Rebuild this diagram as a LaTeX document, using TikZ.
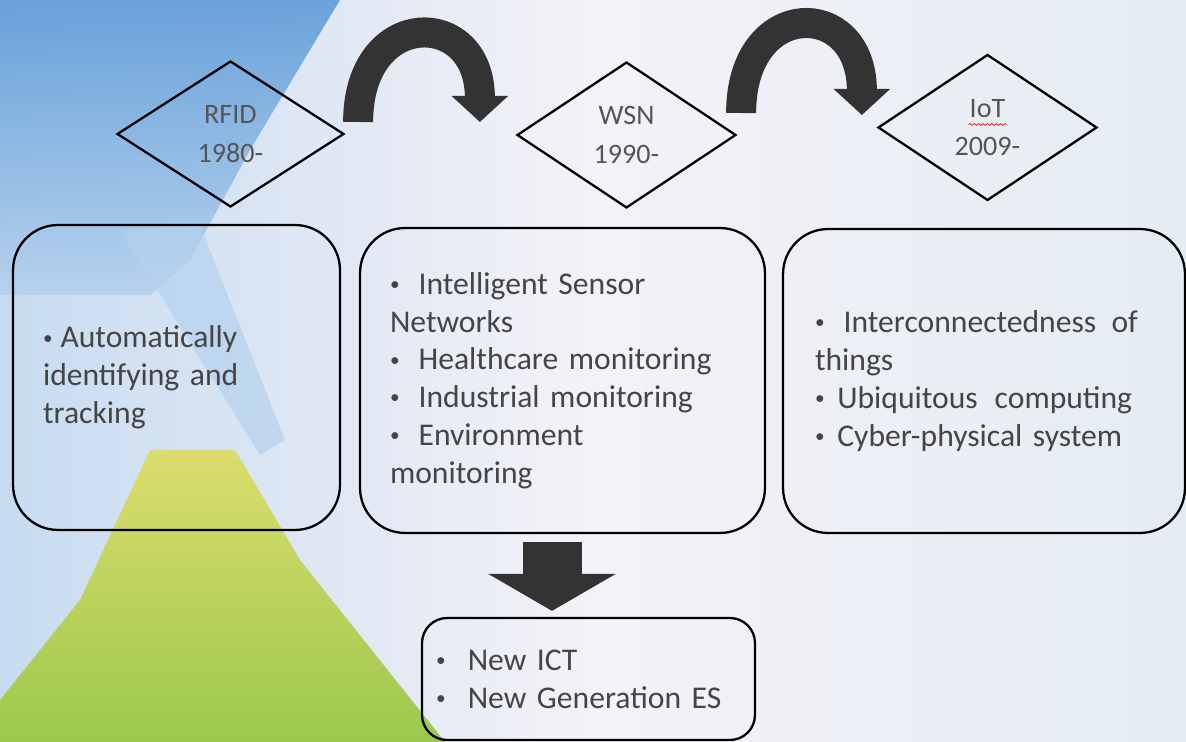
\documentclass[tikz,border=0pt]{standalone}
\usepackage{fontspec}
\setmainfont{Carlito}
\usepackage{xcolor}
\usetikzlibrary{positioning}
\usetikzlibrary{calc}
\usetikzlibrary{shapes.geometric}
\usetikzlibrary{arrows.meta}
\usetikzlibrary{decorations.pathmorphing}

\definecolor{arrowgray}{HTML}{333333}
\definecolor{diamondtext}{HTML}{555555}
\definecolor{boxtext}{HTML}{454545}
\definecolor{bgleft}{HTML}{C6DBF0}
\definecolor{bgmid}{HTML}{F4F2F8}
\definecolor{bgright}{HTML}{E4ECF3}
\definecolor{bluedark}{HTML}{5E9BD8}
\definecolor{bluelight}{HTML}{B5D1EE}
\definecolor{leafyellow}{HTML}{DCDD6C}
\definecolor{leafgreen}{HTML}{9CC84E}

\newcommand{\dotmark}{\raisebox{2.2pt}{\fontsize{11}{11}\selectfont •}}

\begin{document}
\begin{tikzpicture}[
    x=0.02cm, y=-0.02cm,
    era/.style={diamond, draw=black, line width=1.3pt, minimum width=4.38cm, minimum height=2.92cm, inner sep=0pt, align=center, text=diamondtext, font=\fontsize{16}{22}\selectfont},
    infobox/.style={rectangle, rounded corners=0.9cm, draw=black, line width=1.3pt, inner sep=0pt, align=left, text=boxtext, font=\fontsize{18}{21.5}\selectfont},
    leap/.style={line width=0.6cm, draw=arrowgray, -{Triangle[width=1.1cm,length=0.52cm]}},
    downarrow/.style={line width=1.18cm, draw=arrowgray, -{Triangle[width=2.52cm,length=0.74cm]}}
]
\useasboundingbox (0,0) rectangle (1186,742);

% background
\shade[left color=bgleft, right color=bgright, middle color=bgmid] (0,0) rectangle (1186,742);
\shade[left color=bgleft, right color=bgleft!70!bgmid] (0,290) rectangle (150,742);
\shade[top color=bluedark, bottom color=bluelight, opacity=0.9] (0,0) -- (340,0) -- (250,150) -- (190,260) -- (150,295) -- (0,295) -- cycle;
\fill[bluelight, opacity=0.7] (120,230) -- (200,225) -- (285,440) -- (260,455) -- cycle;
\shade[top color=leafyellow, bottom color=leafgreen] (150,450) -- (235,450) -- (300,560) -- (445,742) -- (0,742) -- (0,700) -- (80,600) -- cycle;

% eras
\node[era, minimum width=4.54cm] (rfid) at (230.5,134) {RFID\\1980-};
\node[era] (wsn) at (626.5,135) {WSN\\1990-};
\node[era] (iot) at (987.5,127.5) {IoT\\2009-};
\draw[red, decorate, decoration={snake, amplitude=0.5pt, segment length=2.5pt}] ($(iot.center)+(-19,-3)$) -- ($(iot.center)+(19,-3)$);

% boxes
\node[infobox, minimum width=6.54cm, minimum height=6.1cm, text width=5.34cm] (rfidbox) at (176.5,377.5) {\dotmark\hspace{0.25em}Automatically\\identifying and\\tracking};
\node[infobox, minimum width=8.1cm, minimum height=6.1cm, text width=6.9cm] (wsnbox) at (562.5,380.5) {\dotmark\hspace{0.6em}Intelligent Sensor\\Networks\\\dotmark\hspace{0.6em}Healthcare monitoring\\\dotmark\hspace{0.6em}Industrial monitoring\\\dotmark\hspace{0.6em}Environment\\monitoring};
\node[infobox, minimum width=8.04cm, minimum height=6.08cm, text width=6.76cm] (iotbox) at (984,381) {\dotmark\hspace{0.6em}Interconnectedness\hspace{0.15em} of\\things\\\dotmark\hspace{0.4em}Ubiquitous\hspace{0.2em} computing\\\dotmark\hspace{0.4em}Cyber-physical system};
\node[infobox, rounded corners=0.5cm, minimum width=6.66cm, minimum height=2.44cm, text width=6.1cm] (ictbox) at (588.5,679) {\dotmark\hspace{0.7em}New ICT\\\dotmark\hspace{0.7em}New Generation ES};

% arrows
\coordinate (leap1a) at ($(rfid.east)+(13,-12)$);
\coordinate (leap1b) at ($(wsn.west)+(-36,-13)$);
\coordinate (leap2a) at ($(wsn.east)+(4,-22)$);
\coordinate (leap2b) at ($(iot.west)+(-15,-12.5)$);
\draw[leap] (leap1a) .. controls +(0,-115) and +(0,-115) .. (leap1b);
\draw[leap] (leap2a) .. controls +(0,-116) and +(0,-118) .. (leap2b);
\draw[downarrow] ($(wsnbox.south)+(-10.5,8)$) -- ($(wsnbox.south |- ictbox.north)+(-10.5,-6)$);
\end{tikzpicture}
\end{document}
